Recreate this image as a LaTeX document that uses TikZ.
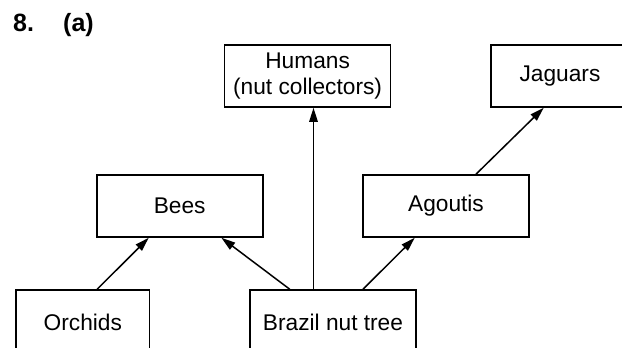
\documentclass[tikz,border=0pt]{standalone}
\usepackage{fontspec}
\setmainfont{Liberation Sans}
\usetikzlibrary{arrows.meta}
\begin{document}
\begin{tikzpicture}[x=1pt,y=-1pt,
  box/.style={draw,line width=1.6pt,inner sep=0pt,align=center,
    font=\fontsize{22.7}{26.5}\selectfont},
  arr/.style={line width=1.5pt,-{Triangle[length=14pt,width=8.5pt]}},
  title/.style={anchor=base west,inner sep=0pt,
    font=\fontsize{25}{28}\selectfont\bfseries}]
\useasboundingbox (0,0) rectangle (622,348);
\clip (0,0) rectangle (622,348);

% heading
\node[title] (num) at (13,31) {8.};
\node[title] (part) at (63,31) {(a)};

% boxes
\node[box,minimum width=166pt,minimum height=62pt] (hum) at (307.6,76) {Humans\\(nut collectors)};
\node[box,minimum width=138pt,minimum height=62pt] (jag) at (560,76) {Jaguars};
\node[box,minimum width=166pt,minimum height=62pt] (bees) at (179.7,206) {Bees};
\node[box,minimum width=166pt,minimum height=62pt] (ago) at (446,206) {Agoutis};
\node[box,minimum width=133.6pt,minimum height=64pt] (orch) at (82.8,322) {Orchids};
\node[box,minimum width=166pt,minimum height=64pt] (tree) at (333,322) {Brazil nut tree};

% feeding / pollination links
\draw[arr] ([xshift=14.4pt]orch.north) -- ([xshift=-31pt]bees.south);
\draw[arr] ([xshift=-43.3pt]tree.north) -- ([xshift=41.7pt]bees.south);
\draw[arr] ([xshift=-19.5pt]tree.north) -- ([xshift=-19.5pt]tree.north |- hum.south);
\draw[arr] ([xshift=30pt]tree.north) -- ([xshift=-31.3pt]ago.south);
\draw[arr] ([xshift=30pt]ago.north) -- ([xshift=-16.3pt]jag.south);
\end{tikzpicture}
\end{document}
